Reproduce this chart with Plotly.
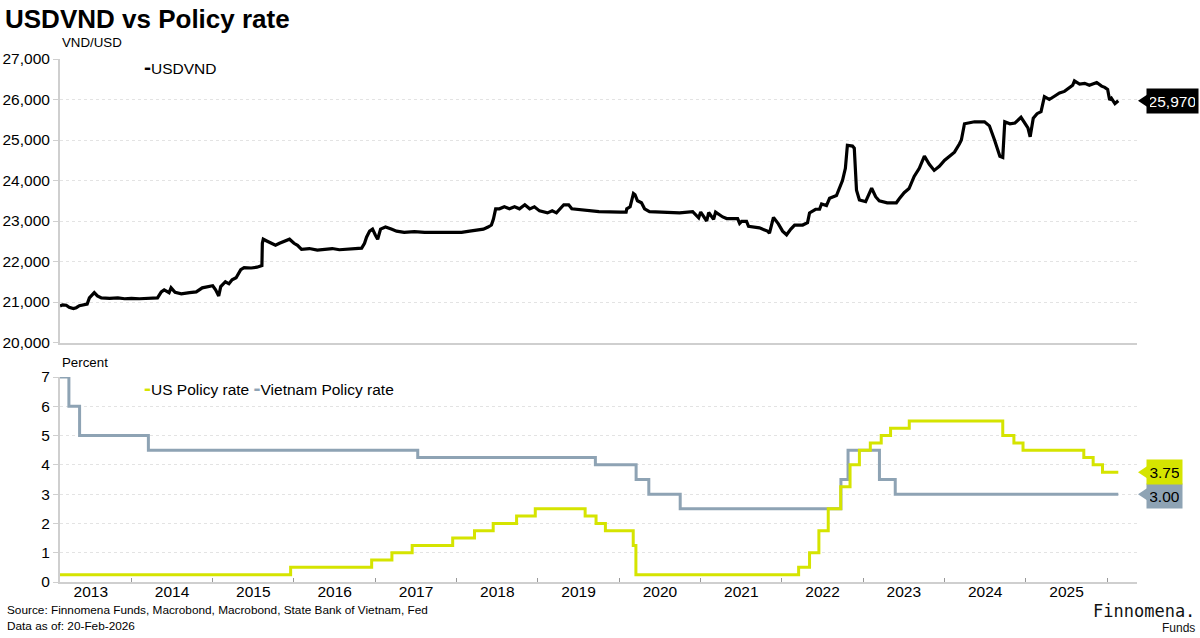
import plotly.graph_objects as go

# ---------------- data ----------------
usd_dates = [
    "2013-02-14", "2013-02-26", "2013-03-14", "2013-03-27", "2013-04-15", "2013-04-28", "2013-05-12",
    "2013-05-29", "2013-06-16", "2013-06-26", "2013-07-09", "2013-07-18", "2013-08-01", "2013-08-19",
    "2013-09-25", "2013-11-01", "2013-12-01", "2014-01-01", "2014-02-06", "2014-03-13", "2014-04-13",
    "2014-04-28", "2014-05-15", "2014-05-28", "2014-06-19", "2014-06-28", "2014-07-16", "2014-08-13",
    "2014-09-19", "2014-10-19", "2014-11-15", "2014-12-07", "2015-01-01", "2015-01-14", "2015-01-28",
    "2015-02-06", "2015-02-27", "2015-03-15", "2015-03-29", "2015-04-16", "2015-05-07", "2015-05-22",
    "2015-06-23", "2015-07-19", "2015-08-10", "2015-08-12", "2015-08-16", "2015-09-03", "2015-09-22",
    "2015-10-10", "2015-10-28", "2015-11-19", "2015-12-12", "2016-01-01", "2016-01-17", "2016-02-04",
    "2016-03-10", "2016-04-15", "2016-05-16", "2016-06-21", "2016-07-23", "2016-08-28", "2016-10-03",
    "2016-10-31", "2016-11-13", "2016-11-22", "2016-12-06", "2016-12-19", "2017-01-01", "2017-01-11",
    "2017-01-24", "2017-02-15", "2017-03-13", "2017-04-06", "2017-05-10", "2017-06-25", "2017-08-10",
    "2017-09-25", "2017-11-10", "2017-12-24", "2018-01-23", "2018-02-28", "2018-04-03", "2018-05-01",
    "2018-05-22", "2018-06-06", "2018-06-15", "2018-06-25", "2018-07-12", "2018-08-03", "2018-08-26",
    "2018-09-18", "2018-10-10", "2018-11-03", "2018-11-25", "2018-12-16", "2019-01-08", "2019-02-13",
    "2019-03-06", "2019-03-25", "2019-04-27", "2019-05-19", "2019-06-02", "2019-07-20", "2019-10-02",
    "2020-01-06", "2020-02-01", "2020-02-04", "2020-02-19", "2020-03-05", "2020-03-12", "2020-03-23",
    "2020-04-10", "2020-04-24", "2020-05-16", "2020-09-28", "2020-11-26", "2020-12-23", "2021-01-01",
    "2021-01-28", "2021-02-06", "2021-02-28", "2021-03-09", "2021-04-10", "2021-04-28", "2021-06-16",
    "2021-06-25", "2021-07-04", "2021-07-26", "2021-08-04", "2021-09-22", "2021-10-28", "2021-11-06",
    "2021-11-24", "2021-12-07", "2021-12-16", "2022-01-04", "2022-01-22", "2022-02-10", "2022-02-27",
    "2022-04-04", "2022-04-26", "2022-05-05", "2022-06-01", "2022-06-19", "2022-06-28", "2022-07-20",
    "2022-08-03", "2022-09-03", "2022-09-17", "2022-09-30", "2022-10-13", "2022-10-22", "2022-11-14",
    "2022-11-22", "2022-12-02", "2022-12-15", "2023-01-12", "2023-02-08", "2023-02-26", "2023-03-14",
    "2023-04-19", "2023-05-30", "2023-06-12", "2023-07-04", "2023-07-26", "2023-08-18", "2023-09-10",
    "2023-10-03", "2023-10-25", "2023-11-16", "2023-12-09", "2024-01-02", "2024-01-24", "2024-02-15",
    "2024-03-08", "2024-03-17", "2024-03-31", "2024-05-15", "2024-06-29", "2024-07-21", "2024-08-13",
    "2024-09-06", "2024-09-19", "2024-09-28", "2024-10-21", "2024-11-13", "2024-12-10", "2024-12-27",
    "2025-01-10", "2025-01-20", "2025-02-03", "2025-02-20", "2025-03-10", "2025-03-25", "2025-04-16",
    "2025-05-09", "2025-06-01", "2025-06-23", "2025-07-15", "2025-07-30", "2025-08-07", "2025-08-30",
    "2025-09-22", "2025-10-13", "2025-11-15", "2025-12-07", "2025-12-21", "2026-01-03", "2026-01-12",
    "2026-01-20", "2026-02-05", "2026-02-20",
]
usd_values = [
    20900, 20930, 20920, 20870, 20840, 20860, 20910,
    20930, 20950, 21100, 21180, 21230, 21150, 21100,
    21090, 21100, 21080, 21090, 21080, 21090, 21080,
    21100, 21250, 21300, 21230, 21350, 21240, 21200,
    21230, 21250, 21350, 21380, 21400, 21300, 21150,
    21380, 21500, 21450, 21550, 21600, 21800, 21850,
    21840, 21860, 21900, 22450, 22550, 22500, 22450,
    22400, 22450, 22500, 22550, 22450, 22400, 22300,
    22320, 22280, 22300, 22320, 22290, 22300, 22310,
    22330, 22450, 22600, 22750, 22800, 22650, 22550,
    22800, 22850, 22800, 22750, 22720, 22740, 22720,
    22730, 22720, 22720, 22720, 22750, 22780, 22800,
    22850, 22900, 23050, 23300, 23300, 23350, 23300,
    23350, 23300, 23400, 23300, 23350, 23250, 23200,
    23250, 23200, 23400, 23400, 23300, 23270, 23230,
    23220, 23220, 23300, 23350, 23680, 23650, 23500,
    23450, 23300, 23230, 23200, 23230, 23080, 23220,
    23000, 23210, 23040, 23220, 23100, 23060, 23060,
    22940, 22990, 22990, 22870, 22830, 22750, 22700,
    23090, 23000, 22930, 22750, 22660, 22800, 22900,
    22900, 22960, 23200, 23290, 23290, 23420, 23380,
    23560, 23630, 23850, 24000, 24300, 24870, 24850,
    24800, 23760, 23520, 23480, 23810, 23600, 23500,
    23450, 23450, 23550, 23700, 23800, 24100, 24300,
    24600, 24400, 24250, 24350, 24500, 24600, 24700,
    24900, 25000, 25400, 25450, 25450, 25350, 25000,
    24600, 24570, 25450, 25400, 25420, 25560, 25420,
    25300, 25080, 25540, 25650, 25700, 26070, 26000,
    26080, 26160, 26200, 26300, 26350, 26460, 26380,
    26400, 26350, 26420, 26330, 26300, 26250, 25990,
    26030, 25900, 25970,
]

us_rate_dates = [
    "2013-02-14", "2015-12-17", "2016-12-15", "2017-03-16", "2017-06-15", "2017-12-14", "2018-03-22",
    "2018-06-14", "2018-09-27", "2018-12-20", "2019-08-01", "2019-09-19", "2019-10-31", "2020-03-04",
    "2020-03-16", "2022-03-17", "2022-05-05", "2022-06-16", "2022-07-28", "2022-09-22", "2022-11-03",
    "2022-12-15", "2023-02-02", "2023-03-23", "2023-05-04", "2023-07-27", "2024-09-19", "2024-11-08",
    "2024-12-19", "2025-09-18", "2025-10-30", "2025-12-11", "2026-02-20",
]
us_rate_values = [
    0.25, 0.5, 0.75, 1.0, 1.25, 1.5, 1.75,
    2.0, 2.25, 2.5, 2.25, 2.0, 1.75, 1.25,
    0.25, 0.5, 1.0, 1.75, 2.5, 3.25, 4.0,
    4.5, 4.75, 5.0, 5.25, 5.5, 5.0, 4.75,
    4.5, 4.25, 4.0, 3.75, 3.75,
]

vn_rate_dates = [
    "2013-02-14", "2013-03-26", "2013-05-13", "2014-03-18", "2017-07-10", "2019-09-16", "2020-03-17",
    "2020-05-13", "2020-10-01", "2022-09-23", "2022-10-25", "2023-03-15", "2023-05-25", "2026-02-20",
]
vn_rate_values = [7.0, 6.0, 5.0, 4.5, 4.25, 4.0, 3.5, 3.0, 2.5, 3.5, 4.5, 3.5, 3.0, 3.0]

top_ticks = [20000, 21000, 22000, 23000, 24000, 25000, 26000, 27000]
bottom_ticks = [0, 1, 2, 3, 4, 5, 6, 7]
x_range = ["2013-02-14", "2026-05-15"]

# ---------------- style ----------------
FONT = "Liberation Sans, Arial, sans-serif"
YELLOW = "#d5e400"
GREY = "#8ea3b4"
AXIS = "#cfcfcf"
GRID = "#e3e3e3"
W, H = 1200, 638
ML, MR, MT, MB = 60, 63, 59, 56
PW = W - ML - MR
PH = H - MT - MB


def px_x(p):
    return (p - ML) / PW


def px_y(p):
    return (H - MB - p) / PH


fig = go.Figure()
fig.add_trace(go.Scatter(x=usd_dates, y=usd_values, mode="lines", name="USDVND",
                         line=dict(color="#000000", width=3.2), xaxis="x", yaxis="y"))
fig.add_trace(go.Scatter(x=vn_rate_dates, y=vn_rate_values, mode="lines", name="Vietnam Policy rate",
                         line=dict(color=GREY, width=3, shape="hv"), xaxis="x2", yaxis="y2"))
fig.add_trace(go.Scatter(x=us_rate_dates, y=us_rate_values, mode="lines", name="US Policy rate",
                         line=dict(color=YELLOW, width=3, shape="hv"), xaxis="x2", yaxis="y2"))

yaxis_common = dict(
    showgrid=True, gridcolor=GRID, griddash="dot", gridwidth=1,
    showline=True, linecolor=AXIS, linewidth=2,
    ticks="outside", ticklen=5, tickcolor=AXIS, tickwidth=1,
    tickfont=dict(family=FONT, size=15.5, color="#000"),
    zeroline=False, fixedrange=True, automargin=False,
)

fig.update_layout(
    width=W, height=H, autosize=False,
    margin=dict(l=ML, r=MR, t=MT, b=MB, autoexpand=False),
    paper_bgcolor="white", plot_bgcolor="white",
    showlegend=False,
    font=dict(family=FONT, color="#000"),
    title=dict(text="<b>USDVND vs Policy rate</b>", xref="container", yref="container",
               x=5 / W, xanchor="left", y=1 - 19 / H, yanchor="middle",
               font=dict(family=FONT, size=26, color="#000")),
    xaxis=dict(domain=[0, 1], anchor="y", range=x_range, type="date", automargin=False,
               showticklabels=False, ticks="", showgrid=False, zeroline=False,
               showline=True, linecolor=AXIS, linewidth=2),
    yaxis=dict(domain=[px_y(342.5), 1], anchor="x", range=[20000, 27000],
               tickvals=top_ticks, tickformat=",", **yaxis_common),
    xaxis2=dict(domain=[0, 1], anchor="y2", range=x_range, type="date", matches="x",
                automargin=False, showgrid=False, zeroline=False,
                showline=True, linecolor=AXIS, linewidth=2,
                ticks="inside", ticklen=4, tickcolor="#999999", tickwidth=1,
                tick0="2013-01-01", dtick="M12", ticklabelmode="period", tickformat="%Y",
                ticklabelstandoff=-6,
                tickfont=dict(family=FONT, size=15.5, color="#000")),
    yaxis2=dict(domain=[0, px_y(377)], anchor="x2", range=[0, 7],
                tickvals=bottom_ticks, **yaxis_common),
)

ann = []
# axis unit labels
ann.append(dict(text="VND/USD", xref="paper", yref="paper", x=0, y=px_y(42),
                xanchor="left", yanchor="middle", showarrow=False,
                font=dict(family=FONT, size=13.3, color="#000")))
ann.append(dict(text="Percent", xref="paper", yref="paper", x=0, y=px_y(362),
                xanchor="left", yanchor="middle", showarrow=False,
                font=dict(family=FONT, size=13.3, color="#000")))
# legends
DASH = "<span style='color:{c};font-size:21px'><b>-</b></span>"
ann.append(dict(text=DASH.format(c="#000000") + "USDVND", xref="paper", yref="paper",
                x=px_x(142), y=px_y(67), xanchor="left", yanchor="middle", showarrow=False,
                font=dict(family=FONT, size=15.5, color="#000")))
ann.append(dict(text=DASH.format(c=YELLOW) + "US Policy rate " + DASH.format(c=GREY) + "Vietnam Policy rate",
                xref="paper", yref="paper", x=px_x(142), y=px_y(387), xanchor="left", yanchor="middle",
                showarrow=False, font=dict(family=FONT, size=15.5, color="#000")))
# footer
ann.append(dict(text="Source: Finnomena Funds, Macrobond, Macrobond, State Bank of Vietnam, Fed",
                xref="paper", yref="paper", x=px_x(5), y=px_y(610), xanchor="left", yanchor="middle",
                showarrow=False, font=dict(family=FONT, size=11.8, color="#000")))
ann.append(dict(text="Data as of: 20-Feb-2026",
                xref="paper", yref="paper", x=px_x(5), y=px_y(626), xanchor="left", yanchor="middle",
                showarrow=False, font=dict(family=FONT, size=11.8, color="#000")))
# logo
ann.append(dict(text="Finnomena.", xref="paper", yref="paper", x=px_x(1197), y=px_y(611),
                xanchor="right", yanchor="middle", showarrow=False,
                font=dict(family="DejaVu Sans Mono, monospace", size=17, color="#111")))
ann.append(dict(text="Funds", xref="paper", yref="paper", x=px_x(1197), y=px_y(628),
                xanchor="right", yanchor="middle", showarrow=False,
                font=dict(family=FONT, size=12, color="#111")))

shapes = []
# end-value tags: (value, axis, label, background, text colour, box width, vertical nudge)
tags = [
    (usd_values[-1], "y", f"{usd_values[-1]:,.0f}", "#000000", "#ffffff", 45, 0),
    (vn_rate_values[-1], "y2", f"{vn_rate_values[-1]:.2f}", GREY, "#000000", 29, -1.5),
    (us_rate_values[-1], "y2", f"{us_rate_values[-1]:.2f}", YELLOW, "#000000", 29, 0.5),
]
for val, yref, txt, bg, fg, bw, ys in tags:
    shapes.append(dict(type="path", xref="paper", yref=yref, xsizemode="pixel", ysizemode="pixel",
                       xanchor=px_x(1138), yanchor=val, path="M0,0 L9,6 L9,-6 Z",
                       fillcolor=bg, line=dict(width=0)))
    ann.append(dict(text=txt, xref="paper", yref=yref, x=px_x(1146), y=val, yshift=ys,
                    xanchor="left", yanchor="middle", showarrow=False, bgcolor=bg,
                    width=bw, height=18, align="center",
                    borderpad=3, font=dict(family=FONT, size=15.5, color=fg)))

fig.update_layout(annotations=ann, shapes=shapes)
fig.write_html("out.html")
